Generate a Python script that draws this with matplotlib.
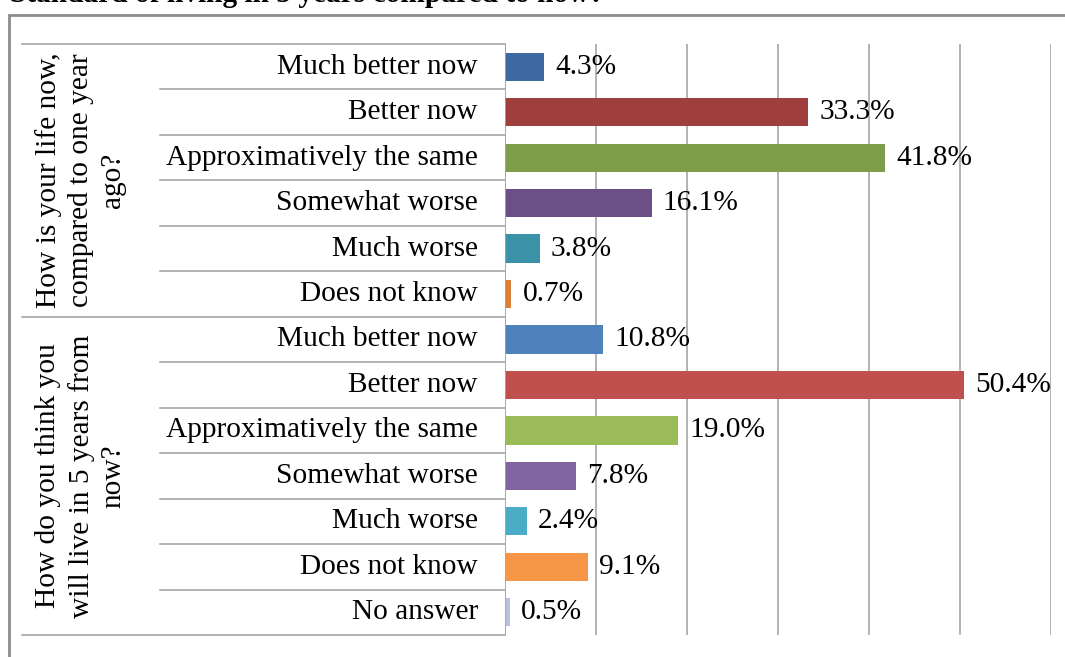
import matplotlib.pyplot as plt
from matplotlib.patches import Rectangle
from matplotlib.lines import Line2D
import matplotlib.transforms as mtransforms

W, H = 1065, 657

questions = [
    "How is your life now,\ncompared to one year\nago?",
    "How do you think you\nwill live in 5 years from\nnow?",
]
answers_now = ["Much better now", "Better now", "Approximatively the same",
               "Somewhat worse", "Much worse", "Does not know"]
values_now = [4.3, 33.3, 41.8, 16.1, 3.8, 0.7]
answers_future = ["Much better now", "Better now", "Approximatively the same",
                  "Somewhat worse", "Much worse", "Does not know", "No answer"]
values_future = [10.8, 50.4, 19.0, 7.8, 2.4, 9.1, 0.5]

colors_now = ["#3D6AA1", "#9E3F3E", "#7E9D48", "#6A5087", "#3B91A8", "#DC8038"]
colors_future = ["#4F81BD", "#C0504D", "#9BBB59", "#8064A2", "#4BACC6",
                 "#F79646", "#B3C4DE"]

labels = answers_now + answers_future
values = values_now + values_future
colors = colors_now + colors_future

FONT = "Liberation Serif"
FS = 21.2


def px(x, y):
    return x / W, 1 - y / H


def main():
    fig = plt.figure(figsize=(W / 100, H / 100), dpi=100)

    # outer frame (cut off on right / bottom like the source)
    fig.patches.append(Rectangle(px(9, 700), (1200 - 9) / W, (700 - 15) / H,
                                 transform=fig.transFigure, fill=False,
                                 edgecolor="#8c8c8c", linewidth=2))

    # heading above the frame, mostly cut off in the source image
    fig.text(10 / W, 1 - 1.5 / H, "Standard of living in 5 years compared to now?",
             fontfamily=FONT, fontsize=FS, fontweight="bold",
             va="baseline", ha="left")

    left, right, top, bottom = 505, 1051, 44, 635
    ax = fig.add_axes([left / W, 1 - bottom / H, (right - left) / W, (bottom - top) / H])
    n = len(values)
    pos = list(range(n))
    ax.barh(pos, values, height=0.62, color=colors, zorder=3)
    ax.set_xlim(0, 60)
    ax.set_ylim(n - 0.5, -0.5)
    ax.set_xticks(range(0, 61, 10))
    ax.xaxis.grid(True, color="#a6a6a6", linewidth=1.2)
    ax.tick_params(left=False, bottom=False, labelleft=False, labelbottom=False)
    for s in ax.spines.values():
        s.set_visible(False)
    ax.axvline(0, color="#a6a6a6", linewidth=1.2, zorder=4)

    for i, v in enumerate(values):
        ax.annotate(f"{v:.1f}%", (v, i), xytext=(8, 0), textcoords="offset points",
                    va="center", ha="left", fontfamily=FONT, fontsize=FS, zorder=5)

    # category table on the left: x in figure px, y in data rows
    trans = mtransforms.blended_transform_factory(fig.transFigure, ax.transData)
    for i, lab in enumerate(labels):
        fig.text(478 / W, i, lab, transform=trans, ha="right", va="center",
                 fontfamily=FONT, fontsize=FS)

    grp_bounds = [-0.5, len(values_now) - 0.5, n - 0.5]
    for i in range(n + 1):
        y = i - 0.5
        x0 = 22 if y in grp_bounds else 160
        fig.lines.append(Line2D([x0 / W, left / W], [y, y], transform=trans,
                                color="#a6a6a6", linewidth=1.2))

    for k, q in enumerate(questions):
        yc = (grp_bounds[k] + grp_bounds[k + 1]) / 2
        fig.text(81 / W, yc, q, transform=trans, rotation=90, ha="center",
                 va="center", multialignment="center", fontfamily=FONT,
                 fontsize=FS, linespacing=1.3)

    fig.savefig("out.png", dpi=100)
    plt.close(fig)


if __name__ == "__main__":
    main()
